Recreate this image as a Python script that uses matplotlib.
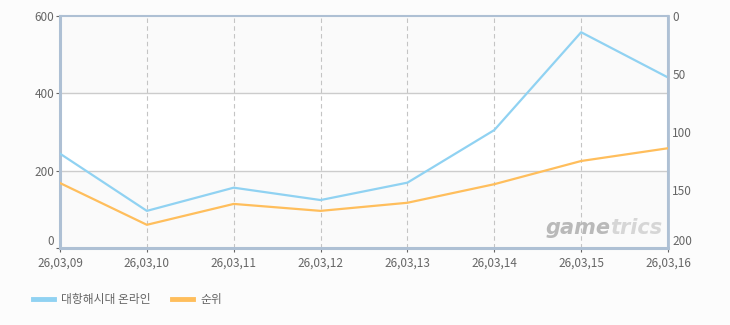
import matplotlib
matplotlib.use("Agg")
import matplotlib.pyplot as plt
from matplotlib.lines import Line2D

plt.rcParams['font.family'] = ['Noto Sans CJK KR', 'DejaVu Sans']

dates = ["26,03,09", "26,03,10", "26,03,11", "26,03,12",
         "26,03,13", "26,03,14", "26,03,15", "26,03,16"]
players = [244, 96, 156, 124, 169, 305, 558, 441]
rank = [144, 180, 162, 168, 161, 145, 125, 114]

blue = "#90d2f2"
orange = "#ffbe5c"
spine_c = "#aec0d4"
txt_c = "#666666"

W, H = 730, 325
fig = plt.figure(figsize=(W / 100, H / 100), dpi=100, facecolor="#fcfcfc")
ax = fig.add_axes([60 / W, (H - 248) / H, (668 - 60) / W, (248 - 16) / H])
ax.set_facecolor("white")

x = list(range(len(dates)))
ax.set_xlim(0, len(dates) - 1)
ax.set_ylim(0, 600)

# light banding
for lo, hi in [(0, 200), (400, 600)]:
    ax.axhspan(lo, hi, color="#fafafa", zorder=0, lw=0)

for yv in [200, 400]:
    ax.axhline(yv, color="#cccccc", lw=1, zorder=1)
for xv in x[1:-1]:
    ax.axvline(xv, color="#c4c4c4", lw=0.8, ls=(0, (4, 3)), zorder=1)

ax.plot(x, players, color=blue, lw=1.6, zorder=3)

ax.set_yticks([0, 200, 400, 600])
ax.set_xticks(x)
ax.set_xticklabels(dates)
ax.tick_params(colors=txt_c, labelsize=8.5, length=3, width=0.8)
ax.tick_params(axis="x", pad=3)
ax.tick_params(axis="y", pad=1)
ax.get_yticklabels()[0].set_va("bottom")
for s in ax.spines.values():
    s.set_color(spine_c)
    s.set_linewidth(1.5)
ax.spines["left"].set_linewidth(2.2)
ax.spines["bottom"].set_linewidth(2.2)

ax2 = ax.twinx()
ax2.set_ylim(200, 0)
ax2.plot(x, rank, color=orange, lw=1.6, zorder=3)
ax2.set_yticks([0, 50, 100, 150, 200])
ax2.tick_params(colors=txt_c, labelsize=8.5, length=0, pad=3)
ax2.get_yticklabels()[-1].set_va("bottom")
for s in ax2.spines.values():
    s.set_visible(False)
ax2.spines["right"].set_visible(True)
ax2.spines["right"].set_color(spine_c)
ax2.spines["right"].set_linewidth(2)

# watermark
wm = dict(transform=ax.transAxes, va="bottom", fontsize=15, fontstyle="italic",
          fontweight="bold", family="DejaVu Sans", zorder=2)
ax.text(0.905, 0.045, "game", ha="right", color="#b9b9b9", **wm)
ax.text(0.905, 0.045, "trics", ha="left", color="#d6d6d6", **wm)

handles = [Line2D([0], [0], color=blue, lw=3.5),
           Line2D([0], [0], color=orange, lw=3.5)]
fig.legend(handles, ["대항해시대 온라인", "순위"], loc="center left",
           bbox_to_anchor=(22 / W, 1 - 300 / H), ncol=2, frameon=False,
           fontsize=8.5, labelcolor=txt_c, handlelength=1.8, handletextpad=0.6,
           columnspacing=1.8)

fig.savefig("out.png", dpi=100, facecolor=fig.get_facecolor())
